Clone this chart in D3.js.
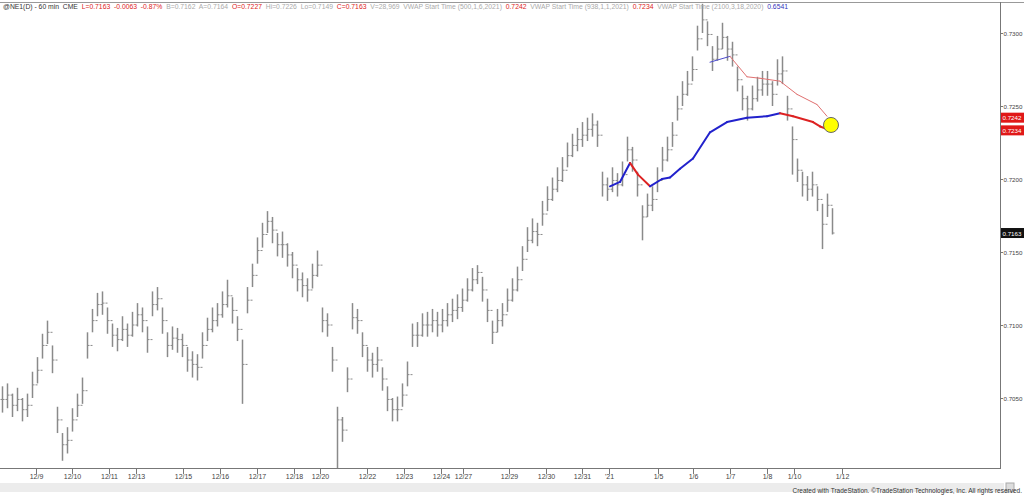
<!DOCTYPE html>
<html><head><meta charset="utf-8">
<script src="https://cdn.jsdelivr.net/npm/d3@7/dist/d3.min.js"></script>
<style>body{margin:0;background:#fff;font-family:Arial,"Liberation Sans",sans-serif}</style>
</head><body><svg id="c" width="1024" height="495"></svg>
<script>
const highs=[0.7058,0.7060,0.7053,0.7057,0.7050,0.7053,0.7068,0.7078,0.7094,0.7103,0.7086,0.7044,0.7026,0.7030,0.7043,0.7053,0.7064,0.7095,0.7111,0.7122,0.7123,0.7112,0.7101,0.7098,0.7106,0.7101,0.7109,0.7115,0.7112,0.7099,0.7123,0.7126,0.7112,0.7095,0.7099,0.7098,0.7094,0.7085,0.7082,0.7080,0.7095,0.7105,0.7112,0.7115,0.7123,0.7131,0.7119,0.7106,0.7090,0.7126,0.7142,0.7160,0.7170,0.7178,0.7174,0.7163,0.7164,0.7156,0.7150,0.7139,0.7136,0.7132,0.7142,0.7151,0.7112,0.7108,0.7085,0.7044,0.7037,0.7071,0.7115,0.7111,0.7095,0.7085,0.7081,0.7085,0.7071,0.7058,0.7050,0.7051,0.7060,0.7075,0.7101,0.7102,0.7108,0.7109,0.7111,0.7109,0.7111,0.7115,0.7118,0.7121,0.7125,0.7132,0.7139,0.7141,0.7133,0.7118,0.7103,0.7111,0.7115,0.7125,0.7132,0.7140,0.7154,0.7167,0.7173,0.7170,0.7185,0.7195,0.7201,0.7208,0.7215,0.7225,0.7231,0.7235,0.7239,0.7242,0.7245,0.7240,0.7205,0.7201,0.7208,0.7204,0.7212,0.7229,0.7222,0.7205,0.7182,0.7190,0.7195,0.7208,0.7222,0.7229,0.7239,0.7257,0.7267,0.7274,0.7284,0.7305,0.7320,0.7308,0.7291,0.7298,0.7307,0.7298,0.7294,0.7277,0.7264,0.7257,0.7264,0.7270,0.7274,0.7274,0.7267,0.7282,0.7284,0.7257,0.7236,0.7214,0.7205,0.7202,0.7205,0.7195,0.7183,0.7190,0.7180];
const lows=[0.7040,0.7043,0.7037,0.7041,0.7034,0.7037,0.7050,0.7060,0.7077,0.7087,0.7067,0.7026,0.7007,0.7012,0.7027,0.7037,0.7046,0.7077,0.7095,0.7106,0.7107,0.7094,0.7085,0.7082,0.7089,0.7085,0.7092,0.7099,0.7095,0.7081,0.7106,0.7110,0.7094,0.7078,0.7083,0.7081,0.7078,0.7068,0.7064,0.7062,0.7077,0.7089,0.7095,0.7099,0.7105,0.7112,0.7101,0.7089,0.7046,0.7108,0.7126,0.7142,0.7153,0.7163,0.7156,0.7147,0.7146,0.7140,0.7132,0.7123,0.7119,0.7116,0.7125,0.7133,0.7095,0.7092,0.7068,0.7002,0.7020,0.7054,0.7097,0.7094,0.7078,0.7068,0.7064,0.7068,0.7055,0.7041,0.7034,0.7034,0.7044,0.7058,0.7085,0.7085,0.7092,0.7092,0.7095,0.7092,0.7095,0.7099,0.7102,0.7104,0.7109,0.7116,0.7123,0.7128,0.7116,0.7102,0.7087,0.7095,0.7099,0.7109,0.7116,0.7123,0.7137,0.7150,0.7156,0.7154,0.7168,0.7178,0.7185,0.7191,0.7198,0.7208,0.7215,0.7219,0.7222,0.7226,0.7229,0.7222,0.7188,0.7185,0.7191,0.7188,0.7195,0.7212,0.7205,0.7188,0.7158,0.7174,0.7178,0.7191,0.7205,0.7212,0.7222,0.7240,0.7250,0.7257,0.7267,0.7288,0.7300,0.7291,0.7274,0.7281,0.7289,0.7281,0.7277,0.7260,0.7247,0.7240,0.7247,0.7253,0.7257,0.7257,0.7250,0.7264,0.7265,0.7240,0.7203,0.7198,0.7188,0.7185,0.7188,0.7178,0.7152,0.7174,0.7162];
const closes=[0.7049,0.7052,0.7045,0.7049,0.7042,0.7045,0.7059,0.7069,0.7086,0.7095,0.7076,0.7035,0.7018,0.7021,0.7035,0.7045,0.7055,0.7086,0.7103,0.7114,0.7115,0.7103,0.7093,0.7090,0.7097,0.7093,0.7100,0.7107,0.7103,0.7090,0.7114,0.7118,0.7103,0.7086,0.7091,0.7090,0.7086,0.7076,0.7073,0.7071,0.7086,0.7097,0.7103,0.7107,0.7114,0.7120,0.7110,0.7097,0.7073,0.7117,0.7134,0.7151,0.7162,0.7171,0.7165,0.7155,0.7155,0.7148,0.7141,0.7131,0.7127,0.7124,0.7134,0.7141,0.7103,0.7100,0.7076,0.7035,0.7028,0.7063,0.7105,0.7103,0.7086,0.7076,0.7073,0.7076,0.7063,0.7049,0.7042,0.7042,0.7052,0.7066,0.7093,0.7093,0.7100,0.7100,0.7103,0.7100,0.7103,0.7107,0.7110,0.7112,0.7117,0.7124,0.7131,0.7136,0.7124,0.7110,0.7095,0.7103,0.7107,0.7117,0.7124,0.7131,0.7145,0.7158,0.7164,0.7162,0.7176,0.7186,0.7193,0.7199,0.7206,0.7216,0.7223,0.7227,0.7230,0.7234,0.7237,0.7230,0.7196,0.7193,0.7199,0.7196,0.7203,0.7220,0.7213,0.7196,0.7174,0.7182,0.7186,0.7199,0.7213,0.7220,0.7230,0.7248,0.7258,0.7265,0.7275,0.7296,0.7309,0.7299,0.7282,0.7289,0.7297,0.7289,0.7285,0.7268,0.7255,0.7248,0.7255,0.7261,0.7265,0.7265,0.7258,0.7272,0.7274,0.7248,0.7227,0.7206,0.7196,0.7193,0.7196,0.7186,0.7169,0.7182,0.7163];
const tickLabels=["12/9","12/10","12/11","12/13","12/15","12/16","12/17","12/18","12/20","12/22","12/23","12/24","12/27","12/29","12/30","12/31","'21","1/5","1/6","1/7","1/8","1/10","1/12"];
const tickIdx=[6.8,14,21.4,26.8,36.2,43.6,51,58.4,63.6,73,80.4,87.8,92.2,101.4,108.8,116,121.4,131.2,138.2,145.6,153,158.4,168];
const yTicks=[0.7050,0.7100,0.7150,0.7200,0.7250,0.7300];
const vwapIdx=[121.6,123.6,125.6,127.2,129.6,132,133.6,135.6,138.2,141.6,145,149,153,155.6,158.2,162.2,163.6,165.2];
const vwapVal=[0.7195,0.7198,0.7211,0.7203,0.7195,0.7200,0.7201,0.7207,0.7214,0.7232,0.7239,0.7242,0.7243,0.7245,0.7243,0.7239,0.7236,0.7234];
const vwap2Idx=[141.6,145.6,149,151.6,155.6,159,163,165];
const vwap2Val=[0.7280,0.7284,0.7270,0.7269,0.7267,0.7258,0.7251,0.7243];

const svg=d3.select("#c");
const x=d3.scaleLinear().domain([-0.4,199.6]).range([0,1000]);
const y=d3.scaleLinear().domain([0.7050,0.7300]).range([398,33]);

svg.append("rect").attr("x",0).attr("y",0).attr("width",1024).attr("height",495).attr("fill","#fff");
svg.append("line").attr("x1",0).attr("x2",1024).attr("y1",2.5).attr("y2",2.5).attr("stroke","#999");
svg.append("line").attr("x1",1000.5).attr("x2",1000.5).attr("y1",2).attr("y2",468).attr("stroke","#777");
svg.append("line").attr("x1",0).attr("x2",1001).attr("y1",468.5).attr("y2",468.5).attr("stroke","#777");

const g=svg.append("g");
highs.forEach((h,i)=>{
  const cx=Math.round(x(i))+0.5;
  g.append("line").attr("x1",cx).attr("x2",cx).attr("y1",y(h)).attr("y2",y(lows[i])).attr("stroke","#8a8a8a").attr("stroke-width",1.5);
  g.append("line").attr("x1",cx).attr("x2",cx+2).attr("y1",y(closes[i])).attr("y2",y(closes[i])).attr("stroke","#8a8a8a");
  const op=i>0?closes[i-1]:closes[i];
  g.append("line").attr("x1",cx-2).attr("x2",cx).attr("y1",y(op)).attr("y2",y(op)).attr("stroke","#8a8a8a");
});

function drawV(idx,val,w,up,down){
  for(let k=1;k<idx.length;k++){
    svg.append("line").attr("x1",x(idx[k-1])).attr("y1",y(val[k-1])).attr("x2",x(idx[k])).attr("y2",y(val[k]))
      .attr("stroke",val[k]>=val[k-1]?up:down).attr("stroke-width",w).attr("stroke-linecap","round");
  }
}
drawV(vwap2Idx,vwap2Val,1,"#4a4acc","#e07070");
drawV(vwapIdx,vwapVal,2,"#2222cc","#dd2222");
svg.append("circle").attr("cx",x(165.8)).attr("cy",y(0.7237)).attr("r",7.5).attr("fill","#ffff00").attr("stroke","#666").attr("stroke-width",1);

const ya=svg.append("g");
yTicks.forEach(v=>{
  ya.append("line").attr("x1",1000).attr("x2",1003).attr("y1",Math.round(y(v))+0.5).attr("y2",Math.round(y(v))+0.5).attr("stroke","#777");
  ya.append("text").attr("x",1003.5).attr("y",y(v)+2.5).text(v.toFixed(4)).attr("font-size",6.2).attr("fill","#444");
});
function tag(v,bg,yy){
  svg.append("rect").attr("x",1001).attr("y",yy-5).attr("width",23).attr("height",10).attr("fill",bg);
  svg.append("text").attr("x",1002.5).attr("y",yy+2.5).text(v).attr("font-size",6.2).attr("fill","#fff");
}
tag("0.7242","#e01818",y(0.7242));
tag("0.7234","#e01818",y(0.7234)+1);
tag("0.7163","#111",y(0.7163));

tickIdx.forEach((t,k)=>{
  const px=Math.round(x(t))+0.5;
  svg.append("line").attr("x1",px).attr("x2",px).attr("y1",469).attr("y2",474).attr("stroke","#777");
  svg.append("text").attr("x",px).attr("y",479).attr("text-anchor","middle").attr("font-size",7).attr("fill","#444").text(tickLabels[k]);
});
svg.append("rect").attr("x",0).attr("y",483).attr("width",1004).attr("height",9).attr("fill","#ececec");
svg.append("rect").attr("x",1006).attr("y",483).attr("width",8).attr("height",9).attr("fill","#ddd").attr("stroke","#aaa");
svg.append("text").attr("x",1022).attr("y",493).attr("text-anchor","end").attr("font-size",6.5).attr("fill","#333")
  .text("Created with TradeStation. ©TradeStation Technologies, Inc. All rights reserved.");

const hdr=svg.append("text").attr("x",3).attr("y",9).attr("font-size",6.8);
[["@NE1(D) - 60 min  CME  ","#333"],["L=0.7163  -0.0063  -0.87%  ","#d22"],["B=0.7162  A=0.7164  ","#aaa"],["O=0.7227  ","#d22"],["Hi=0.7226  Lo=0.7149  ","#aaa"],["C=0.7163  ","#d22"],["V=28,969  VWAP Start Time (500,1,6,2021)  ","#aaa"],["0.7242  ","#d22"],["VWAP Start Time (938,1,1,2021)  ","#aaa"],["0.7234  ","#d22"],["VWAP Start Time (2100,3,18,2020)  ","#aaa"],["0.6541","#3333bb"]]
.forEach(([t,c])=>hdr.append("tspan").attr("fill",c).attr("xml:space","preserve").text(t));
</script></body></html>
